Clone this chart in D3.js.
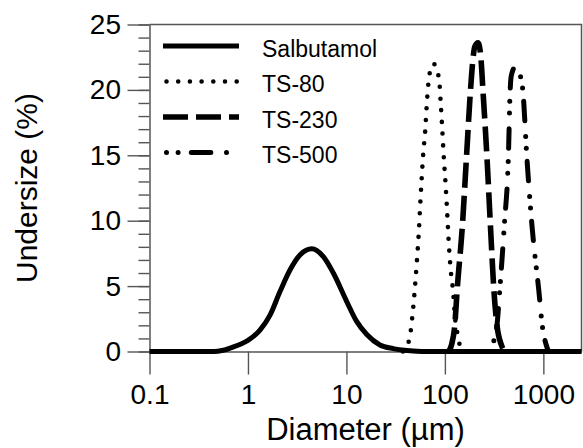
<!DOCTYPE html>
<html>
<head>
<meta charset="utf-8">
<script src="https://cdn.jsdelivr.net/npm/d3@7"></script>
<style>
  html, body { margin: 0; padding: 0; background: #fff; }
  svg { display: block; font-family: "Liberation Sans", Arial, Helvetica, sans-serif; }
</style>
</head>
<body>
<svg id="chart" width="583" height="448"></svg>
<script>
// Particle size distributions: undersize (%) against diameter (µm)
const diameterTicks = [0.1, 1, 10, 100, 1000];
const undersizeTicks = [0, 5, 10, 15, 20, 25];

const salbutamolD = [0.1, 0.45, 0.56, 0.71, 0.85, 1.0, 1.33, 1.68, 2.12, 2.68, 3.39, 4.45, 5.83, 7.36, 10.1, 12.7, 16.1, 21.9, 29.9, 47.6, 70, 2440];
const salbutamolU = [0, 0, 0.1, 0.35, 0.58, 0.85, 1.65, 2.8, 4.6, 6.25, 7.4, 7.85, 7.25, 6.0, 3.8, 2.3, 1.3, 0.5, 0.22, 0.04, 0, 0];

const ts80D = [37.5, 43.4, 47.6, 51.6, 54.4, 56.6, 58.3, 60.1, 63.0, 65.1, 67.6, 73.1, 77.2, 82.2, 87.4, 90.9, 93.7, 98.1, 101.4, 104.5, 110.3, 114.7, 121.1, 126.0, 136.1, 141.6, 159];
const ts80U = [0, 0.9, 3.3, 6.6, 9.2, 11.7, 13.4, 15.0, 16.8, 18.6, 20.3, 21.8, 22.0, 21.5, 20.8, 18.9, 17.2, 14.5, 12.9, 11.2, 7.9, 6.2, 4.6, 2.8, 1.15, 0.5, 0];

const ts230D = [109.5, 116.7, 126.0, 132.9, 150.8, 165.5, 181.7, 193.1, 200.9, 216.9, 231.1, 243.8, 267.7, 289.7, 315.1, 338.0, 374.6, 404.6];
const ts230U = [0, 0.5, 2.0, 4.6, 9.7, 14.8, 19.9, 22.4, 23.3, 23.6, 22.6, 19.9, 14.8, 9.7, 4.6, 2.0, 0.5, 0];

const ts500D = [285.0, 303.6, 338.0, 359.9, 401.8, 441.0, 459.8, 472.9, 522.9, 583.4, 619.8, 680.6, 764.7, 900.7, 974.8, 1070, 1129];
const ts500U = [0, 0.5, 2.0, 4.6, 9.7, 14.8, 19.9, 21.1, 21.8, 21.1, 19.9, 14.8, 9.7, 4.6, 2.0, 0.5, 0];

const seriesNames = ["Salbutamol", "TS-80", "TS-230", "TS-500"];

const series = [
  { name: seriesNames[0], d: salbutamolD, u: salbutamolU, width: 5, dash: null, cap: "butt" },
  { name: seriesNames[1], d: ts80D, u: ts80U, width: 4.6, dash: "0,11.7", cap: "round" },
  { name: seriesNames[2], d: ts230D, u: ts230U, width: 5.6, dash: "25,8", cap: "butt" },
  { name: seriesNames[3], d: ts500D, u: ts500U, width: 5, dash: "0,11.6,0,13.2,19.5,15.7", cap: "round" }
];

const margin = { top: 24.5, right: 1.5, bottom: 96.5, left: 149.5 };
const W = 583, H = 448;
const iw = W - margin.left - margin.right;
const ih = H - margin.top - margin.bottom;

const svg = d3.select("#chart");
const g = svg.append("g").attr("transform", `translate(${margin.left},${margin.top})`);

const x = d3.scaleLog().domain([0.1, 2440]).range([0, iw]);
const y = d3.scaleLinear().domain([0, 25]).range([ih, 0]);

const axisColor = "#555";

// minor y ticks every 1 %
g.append("g")
  .call(d3.axisLeft(y).tickValues(d3.range(0, 26, 1)).tickSize(11).tickFormat(""))
  .call(s => s.select(".domain").remove())
  .call(s => s.selectAll("line").attr("stroke", axisColor).attr("stroke-width", 1.4));

// major y ticks
g.append("g")
  .call(d3.axisLeft(y).tickValues(undersizeTicks).tickSize(22).tickSizeOuter(0).tickPadding(6.5).tickFormat(d3.format("d")))
  .call(s => s.select(".domain").attr("stroke", axisColor).attr("stroke-width", 1.5))
  .call(s => s.selectAll("line").attr("stroke", axisColor).attr("stroke-width", 1.4))
  .call(s => s.selectAll("text").attr("fill", "#000").style("font-size", "28px")
    .attr("font-family", "Liberation Sans, Arial, sans-serif"));

// x axis
g.append("g")
  .attr("transform", `translate(0,${ih})`)
  .call(d3.axisBottom(x).tickValues(diameterTicks).tickSize(23).tickSizeOuter(0).tickPadding(10)
    .tickFormat(d => String(d)))
  .call(s => s.select(".domain").attr("stroke", axisColor).attr("stroke-width", 1.5))
  .call(s => s.selectAll("line").attr("stroke", axisColor).attr("stroke-width", 1.4))
  .call(s => s.selectAll("text").attr("fill", "#000").style("font-size", "28px")
    .attr("font-family", "Liberation Sans, Arial, sans-serif"));

// frame top and right
g.append("path")
  .attr("d", `M0,0H${iw}V${ih}`)
  .attr("fill", "none").attr("stroke", axisColor).attr("stroke-width", 1.5);

// curves
const line = d3.line()
  .x(p => x(p[0]))
  .y(p => y(p[1]))
  .curve(d3.curveMonotoneX);

g.append("g").selectAll("path")
  .data(series)
  .join("path")
  .attr("d", s => line(s.d.map((v, i) => [v, s.u[i]])))
  .attr("fill", "none")
  .attr("stroke", "#000")
  .attr("stroke-width", s => s.width)
  .attr("stroke-dasharray", s => s.dash)
  .attr("stroke-linecap", s => s.cap)
  .attr("stroke-linejoin", "round");

// legend
const legend = svg.append("g");
const rows = legend.selectAll("g")
  .data(series)
  .join("g")
  .attr("transform", (s, i) => `translate(0,${46 + i * 35.5})`);
rows.append("line")
  .attr("x1", s => s.cap === "round" ? 166.5 : 163)
  .attr("x2", s => s.cap === "round" ? 237 : 239)
  .attr("y1", 0).attr("y2", 0)
  .attr("stroke", "#000")
  .attr("stroke-width", s => s.width)
  .attr("stroke-dasharray", s => s.dash)
  .attr("stroke-linecap", s => s.cap);
rows.append("text")
  .attr("x", 262)
  .attr("y", 10.7)
  .style("font-size", "23px")
  .text(s => s.name);

// axis titles
svg.append("text")
  .attr("x", margin.left + iw / 2)
  .attr("y", 440)
  .attr("text-anchor", "middle")
  .style("font-size", "31px")
  .text("Diameter (µm)");

svg.append("text")
  .attr("transform", `translate(37,${margin.top + ih / 2}) rotate(-90)`)
  .attr("text-anchor", "middle")
  .style("font-size", "30px")
  .text("Undersize (%)");
</script>
</body>
</html>
